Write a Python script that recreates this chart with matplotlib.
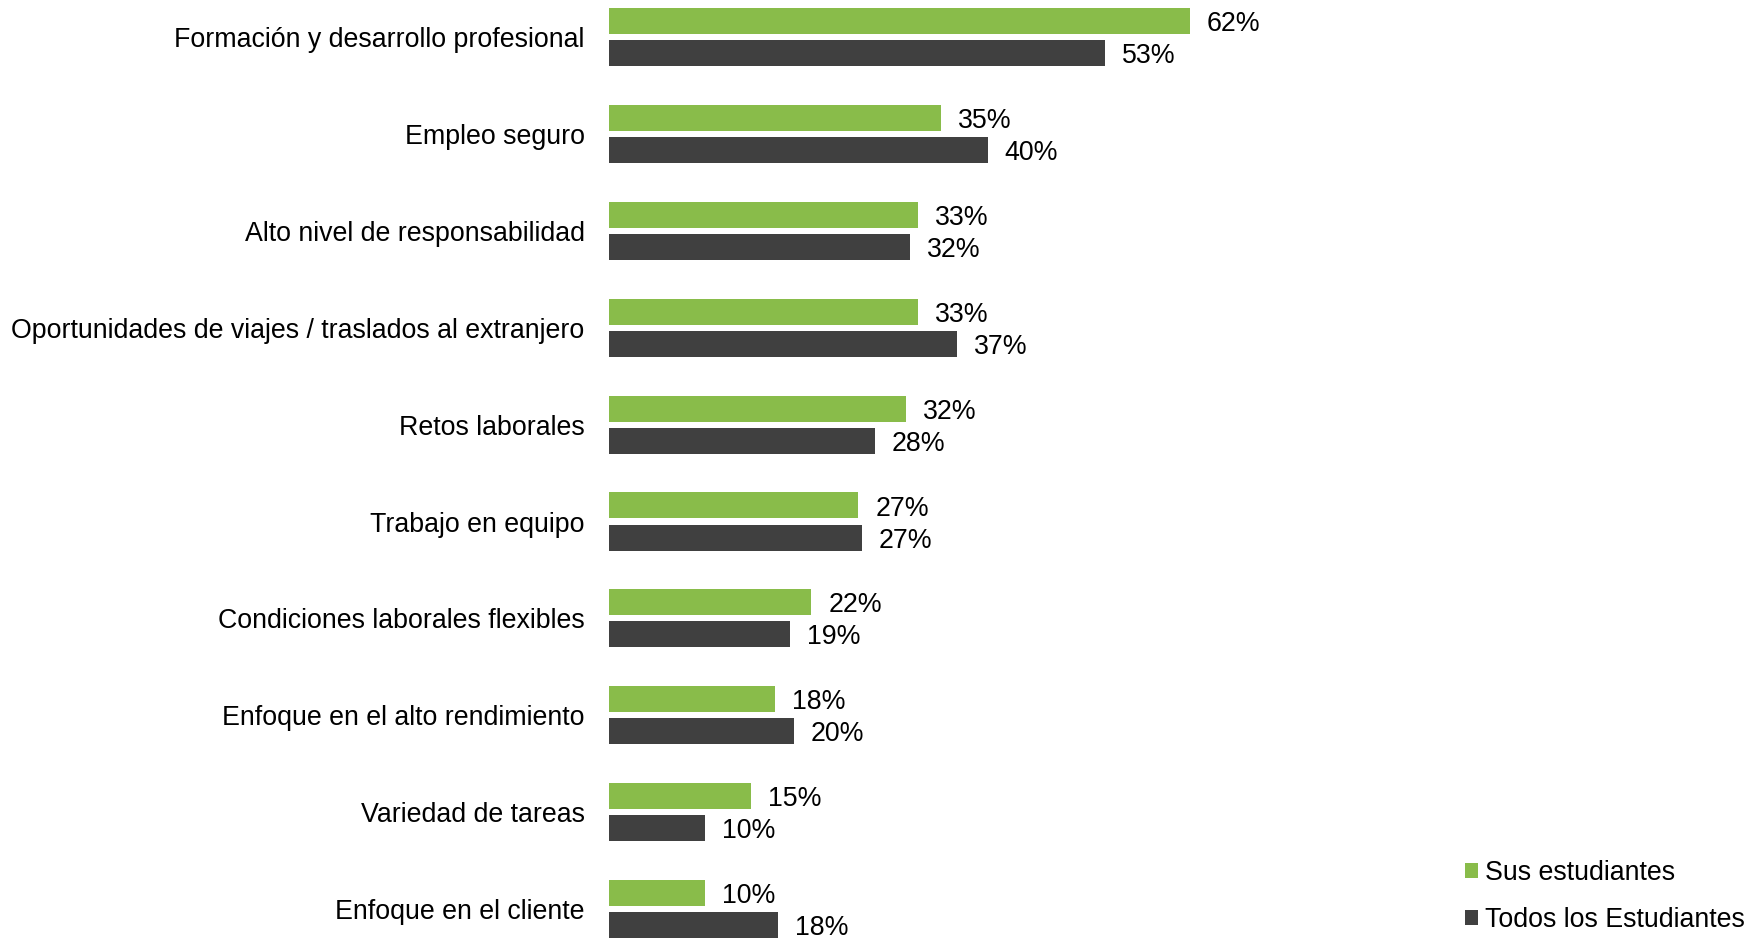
#!/usr/bin/env python3
# -*- coding: utf-8 -*-
"""
Gráfico de barras horizontales agrupadas: Sus estudiantes vs Todos los Estudiantes
"""

import numpy as np
import matplotlib
matplotlib.use("Agg")
import matplotlib.pyplot as plt
from matplotlib.patches import Patch

categorias = [
    "Formación y desarrollo profesional",
    "Empleo seguro",
    "Alto nivel de responsabilidad",
    "Oportunidades de viajes / traslados al extranjero",
    "Retos laborales",
    "Trabajo en equipo",
    "Condiciones laborales flexibles",
    "Enfoque en el alto rendimiento",
    "Variedad de tareas",
    "Enfoque en el cliente",
]
sus_estudiantes = [62.0, 35.4, 33.0, 33.0, 31.7, 26.6, 21.6, 17.7, 15.2, 10.2]
todos_estudiantes = [52.9, 40.4, 32.1, 37.1, 28.4, 27.0, 19.3, 19.7, 10.2, 18.0]
series = ["Sus estudiantes", "Todos los Estudiantes"]

COLOR_VERDE = "#89BC4A"
COLOR_GRIS = "#404040"
FS = 19.3

plt.rcParams["font.family"] = ["Liberation Sans", "DejaVu Sans"]

W, H = 1763, 940
fig = plt.figure(figsize=(W / 100, H / 100), dpi=100)

# eje: 0% en x=609 px, ~9.37 px por punto porcentual
x0 = 609
px_por_pct = 9.37
ax_right = 1400
ax = fig.add_axes([x0 / W, 0, (ax_right - x0) / W, 1])
ax.set_xlim(0, (ax_right - x0) / px_por_pct)

paso = 96.9  # px entre categorías
centro0 = 37
ax.set_ylim((H - centro0) / paso, -centro0 / paso)

y = np.arange(len(categorias))
alto = 26 / paso
desp = 16 / paso

ax.barh(y - desp, sus_estudiantes, height=alto, color=COLOR_VERDE)
ax.barh(y + desp, todos_estudiantes, height=alto, color=COLOR_GRIS)

# etiquetas de valores
off = 17 / px_por_pct
for i in range(len(categorias)):
    ax.text(sus_estudiantes[i] + off, y[i] - desp, f"{sus_estudiantes[i]:.0f}%",
            va="center_baseline", ha="left", fontsize=FS, color="black")
    ax.text(todos_estudiantes[i] + off, y[i] + desp, f"{todos_estudiantes[i]:.0f}%",
            va="center_baseline", ha="left", fontsize=FS, color="black")

# etiquetas de categorías
ax.set_yticks(y)
ax.set_yticklabels(categorias, fontsize=FS, color="black")
ax.tick_params(axis="y", length=0, pad=17.5)
ax.set_xticks([])
for s in ax.spines.values():
    s.set_visible(False)

# leyenda
handles = [Patch(facecolor=COLOR_VERDE), Patch(facecolor=COLOR_GRIS)]
fig.legend(handles, series, loc="lower left",
           bbox_to_anchor=(1465 / W, 7 / H), frameon=False,
           fontsize=FS, handlelength=0.5, handleheight=0.5,
           handletextpad=0.25, labelspacing=0.78, borderpad=0, borderaxespad=0)

fig.savefig("out.png", dpi=100, facecolor="white")
plt.close(fig)
